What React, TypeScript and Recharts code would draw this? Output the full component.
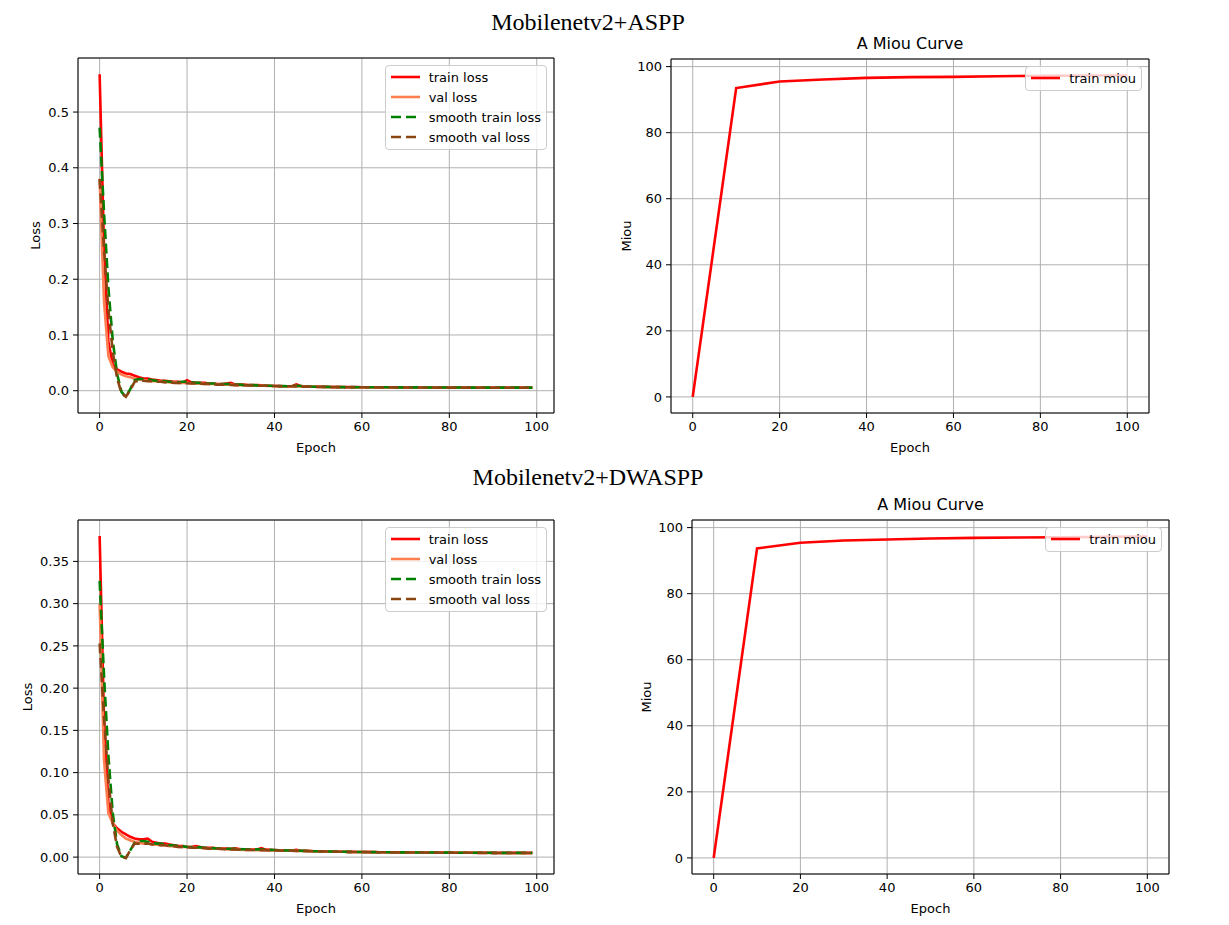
import React from "react";
import { LineChart, Line, XAxis, YAxis, CartesianGrid, Legend } from "recharts";

const FONT = '"DejaVu Sans", Verdana, sans-serif';

const epochTicks = [0, 20, 40, 60, 80, 100];
const miouTicks = [0, 20, 40, 60, 80, 100];
const asppLossTicks = [0, 0.1, 0.2, 0.3, 0.4, 0.5];
const dwasppLossTicks = [0, 0.05, 0.1, 0.15, 0.2, 0.25, 0.3, 0.35];

// Mobilenetv2+ASPP, one value per epoch (0..99)
const asppTrainLoss = [
  0.568, 0.26, 0.088, 0.048, 0.038, 0.034, 0.031, 0.03, 0.027, 0.024,
  0.022, 0.022, 0.02, 0.019, 0.018, 0.018, 0.017, 0.016, 0.016, 0.015,
  0.019, 0.015, 0.014, 0.014, 0.014, 0.013, 0.013, 0.012, 0.012, 0.013,
  0.014, 0.011, 0.011, 0.011, 0.01, 0.01, 0.01, 0.0095, 0.009, 0.009,
  0.0085, 0.0085, 0.008, 0.008, 0.008, 0.0115, 0.0085, 0.008, 0.0075, 0.0072,
  0.007, 0.007, 0.0068, 0.0067, 0.0066, 0.0066, 0.0065, 0.0065, 0.0064, 0.0064,
  0.0063, 0.0063, 0.0063, 0.0062, 0.0062, 0.0062, 0.0061, 0.0061, 0.0061, 0.006,
  0.006, 0.006, 0.006, 0.0059, 0.0059, 0.0059, 0.0059, 0.0058, 0.0058, 0.0058,
  0.0058, 0.0058, 0.0057, 0.0057, 0.0057, 0.0057, 0.0057, 0.0056, 0.0056, 0.0056,
  0.0056, 0.0056, 0.0056, 0.0055, 0.0055, 0.0055, 0.0055, 0.0055, 0.0055, 0.0055,
];
const asppValLoss = [
  0.38, 0.16, 0.062, 0.042, 0.034, 0.029, 0.026, 0.024, 0.022, 0.02,
  0.019, 0.018, 0.017, 0.017, 0.016, 0.016, 0.015, 0.015, 0.014, 0.014,
  0.014, 0.013, 0.013, 0.013, 0.012, 0.012, 0.012, 0.011, 0.011, 0.011,
  0.011, 0.01, 0.01, 0.01, 0.0095, 0.0095, 0.009, 0.009, 0.009, 0.0085,
  0.0085, 0.008, 0.008, 0.008, 0.008, 0.0085, 0.0078, 0.0075, 0.0072, 0.007,
  0.0069, 0.0068, 0.0066, 0.0065, 0.0064, 0.0064, 0.0063, 0.0063, 0.0062, 0.0062,
  0.0061, 0.0061, 0.0061, 0.006, 0.006, 0.006, 0.0059, 0.0059, 0.0059, 0.0058,
  0.0058, 0.0058, 0.0058, 0.0057, 0.0057, 0.0057, 0.0057, 0.0056, 0.0056, 0.0056,
  0.0056, 0.0056, 0.0055, 0.0055, 0.0055, 0.0055, 0.0055, 0.0054, 0.0054, 0.0054,
  0.0054, 0.0054, 0.0054, 0.0053, 0.0053, 0.0053, 0.0053, 0.0053, 0.0053, 0.0053,
];
const asppSmoothTrain = [
  0.472, 0.32, 0.185, 0.09, 0.03, -0.002, -0.011, 0.003, 0.019, 0.021,
  0.021, 0.02, 0.019, 0.018, 0.018, 0.017, 0.016, 0.016, 0.015, 0.016,
  0.016, 0.015, 0.014, 0.014, 0.013, 0.013, 0.013, 0.012, 0.012, 0.012,
  0.012, 0.011, 0.011, 0.01, 0.01, 0.01, 0.0095, 0.009, 0.009, 0.0088,
  0.0085, 0.0083, 0.0082, 0.008, 0.0085, 0.009, 0.0085, 0.008, 0.0075, 0.0072,
  0.007, 0.0069, 0.0068, 0.0067, 0.0066, 0.0065, 0.0065, 0.0064, 0.0064, 0.0063,
  0.0063, 0.0062, 0.0062, 0.0062, 0.0061, 0.0061, 0.0061, 0.006, 0.006, 0.006,
  0.006, 0.0059, 0.0059, 0.0059, 0.0059, 0.0058, 0.0058, 0.0058, 0.0058, 0.0057,
  0.0057, 0.0057, 0.0057, 0.0057, 0.0056, 0.0056, 0.0056, 0.0056, 0.0056, 0.0056,
  0.0055, 0.0055, 0.0055, 0.0055, 0.0055, 0.0055, 0.0055, 0.0055, 0.0055, 0.0055,
];
const asppSmoothVal = [
  0.38, 0.255, 0.145, 0.07, 0.022, -0.004, -0.011, 0.001, 0.016, 0.018,
  0.018, 0.017, 0.017, 0.016, 0.016, 0.015, 0.015, 0.014, 0.014, 0.014,
  0.0135, 0.013, 0.013, 0.0125, 0.012, 0.012, 0.0115, 0.011, 0.011, 0.011,
  0.0105, 0.01, 0.01, 0.0098, 0.0095, 0.0093, 0.009, 0.009, 0.0088, 0.0086,
  0.0084, 0.0082, 0.008, 0.008, 0.0079, 0.0078, 0.0076, 0.0074, 0.0072, 0.007,
  0.0069, 0.0068, 0.0066, 0.0065, 0.0064, 0.0064, 0.0063, 0.0063, 0.0062, 0.0062,
  0.0061, 0.0061, 0.0061, 0.006, 0.006, 0.006, 0.0059, 0.0059, 0.0059, 0.0058,
  0.0058, 0.0058, 0.0058, 0.0057, 0.0057, 0.0057, 0.0057, 0.0056, 0.0056, 0.0056,
  0.0056, 0.0056, 0.0055, 0.0055, 0.0055, 0.0055, 0.0055, 0.0054, 0.0054, 0.0054,
  0.0054, 0.0054, 0.0054, 0.0053, 0.0053, 0.0053, 0.0053, 0.0053, 0.0053, 0.0053,
];

// Mobilenetv2+DWASPP
const dwasppTrainLoss = [
  0.38, 0.165, 0.065, 0.04, 0.034, 0.03, 0.027, 0.024, 0.022, 0.021,
  0.021, 0.022, 0.018, 0.017, 0.016, 0.016, 0.015, 0.014, 0.013, 0.013,
  0.012, 0.012, 0.013, 0.012, 0.011, 0.011, 0.011, 0.01, 0.01, 0.01,
  0.0098, 0.0105, 0.0095, 0.0093, 0.009, 0.009, 0.009, 0.0105, 0.0088, 0.0086,
  0.0084, 0.0082, 0.008, 0.0079, 0.0078, 0.0085, 0.0076, 0.0074, 0.0072, 0.007,
  0.0069, 0.0068, 0.0067, 0.0066, 0.0065, 0.0064, 0.0063, 0.0062, 0.0062, 0.0061,
  0.006, 0.006, 0.0059, 0.0059, 0.0058, 0.0058, 0.0057, 0.0057, 0.0056, 0.0056,
  0.0056, 0.0055, 0.0055, 0.0055, 0.0054, 0.0054, 0.0054, 0.0053, 0.0053, 0.0053,
  0.0053, 0.0052, 0.0052, 0.0052, 0.0052, 0.0051, 0.0051, 0.0051, 0.0051, 0.0051,
  0.005, 0.005, 0.005, 0.005, 0.005, 0.005, 0.005, 0.005, 0.005, 0.005,
];
const dwasppValLoss = [
  0.3, 0.115, 0.052, 0.04, 0.031, 0.026, 0.022, 0.02, 0.018, 0.017,
  0.016, 0.016, 0.015, 0.015, 0.014, 0.014, 0.013, 0.013, 0.012, 0.012,
  0.012, 0.011, 0.011, 0.011, 0.0105, 0.01, 0.01, 0.0098, 0.0095, 0.0093,
  0.009, 0.009, 0.0088, 0.0086, 0.0085, 0.0084, 0.0083, 0.0082, 0.0081, 0.008,
  0.0079, 0.0078, 0.0077, 0.0076, 0.0075, 0.0074, 0.0073, 0.0072, 0.0071, 0.007,
  0.0069, 0.0068, 0.0067, 0.0066, 0.0065, 0.0064, 0.0063, 0.0062, 0.0061, 0.0061,
  0.006, 0.0059, 0.0059, 0.0058, 0.0058, 0.0057, 0.0057, 0.0056, 0.0056, 0.0055,
  0.0055, 0.0055, 0.0054, 0.0054, 0.0054, 0.0053, 0.0053, 0.0053, 0.0052, 0.0052,
  0.0052, 0.0052, 0.0051, 0.0051, 0.0051, 0.0051, 0.005, 0.005, 0.005, 0.005,
  0.005, 0.0049, 0.0049, 0.0049, 0.0049, 0.0049, 0.0049, 0.0049, 0.0049, 0.0049,
];
const dwasppSmoothTrain = [
  0.327, 0.215, 0.12, 0.052, 0.015, 0.001, -0.001, 0.008, 0.017, 0.019,
  0.019, 0.018, 0.017, 0.016, 0.016, 0.015, 0.014, 0.014, 0.013, 0.013,
  0.012, 0.012, 0.012, 0.0115, 0.011, 0.011, 0.0105, 0.01, 0.01, 0.0098,
  0.0097, 0.0097, 0.0095, 0.0093, 0.0091, 0.009, 0.0092, 0.009, 0.0088, 0.0086,
  0.0084, 0.0082, 0.008, 0.0079, 0.0079, 0.0078, 0.0076, 0.0074, 0.0072, 0.007,
  0.0069, 0.0068, 0.0067, 0.0066, 0.0065, 0.0064, 0.0063, 0.0062, 0.0062, 0.0061,
  0.006, 0.006, 0.0059, 0.0059, 0.0058, 0.0058, 0.0057, 0.0057, 0.0056, 0.0056,
  0.0056, 0.0055, 0.0055, 0.0055, 0.0054, 0.0054, 0.0054, 0.0053, 0.0053, 0.0053,
  0.0053, 0.0052, 0.0052, 0.0052, 0.0052, 0.0051, 0.0051, 0.0051, 0.0051, 0.0051,
  0.005, 0.005, 0.005, 0.005, 0.005, 0.005, 0.005, 0.005, 0.005, 0.005,
];
const dwasppSmoothVal = [
  0.253, 0.165, 0.092, 0.04, 0.012, 0.0, -0.001, 0.008, 0.016, 0.016,
  0.016, 0.016, 0.015, 0.015, 0.014, 0.014, 0.013, 0.013, 0.012, 0.012,
  0.012, 0.011, 0.011, 0.011, 0.0105, 0.01, 0.01, 0.0098, 0.0095, 0.0093,
  0.009, 0.009, 0.0088, 0.0086, 0.0085, 0.0084, 0.0083, 0.0082, 0.0081, 0.008,
  0.0079, 0.0078, 0.0077, 0.0076, 0.0075, 0.0074, 0.0073, 0.0072, 0.0071, 0.007,
  0.0069, 0.0068, 0.0067, 0.0066, 0.0065, 0.0064, 0.0063, 0.0062, 0.0061, 0.0061,
  0.006, 0.0059, 0.0059, 0.0058, 0.0058, 0.0057, 0.0057, 0.0056, 0.0056, 0.0055,
  0.0055, 0.0055, 0.0054, 0.0054, 0.0054, 0.0053, 0.0053, 0.0053, 0.0052, 0.0052,
  0.0052, 0.0052, 0.0051, 0.0051, 0.0051, 0.0051, 0.005, 0.005, 0.005, 0.005,
  0.005, 0.0049, 0.0049, 0.0049, 0.0049, 0.0049, 0.0049, 0.0049, 0.0049, 0.0049,
];

const miouEpochs = [0, 10, 20, 30, 40, 50, 60, 70, 80, 90, 100];
const asppMiou = [0, 93.5, 95.5, 96.1, 96.6, 96.8, 96.9, 97.1, 97.2, 97.3, 97.3];
const dwasppMiou = [0, 93.7, 95.4, 96.1, 96.4, 96.7, 96.9, 97.0, 97.1, 97.2, 97.3];

type Series = { key: string; name: string; color: string; dash?: string };

const lossSeries: Series[] = [
  { key: "train", name: "train loss", color: "#ff0000" },
  { key: "val", name: "val loss", color: "#ff7f50" },
  { key: "smoothTrain", name: "smooth train loss", color: "#008000", dash: "10 4.5" },
  { key: "smoothVal", name: "smooth val loss", color: "#8b4513", dash: "10 4.5" },
];
const miouSeries: Series[] = [{ key: "miou", name: "train miou", color: "#ff0000" }];

const lossRows = (train: number[], val: number[], st: number[], sv: number[]) =>
  train.map((v, i) => ({ epoch: i, train: v, val: val[i], smoothTrain: st[i], smoothVal: sv[i] }));
const miouRows = (vals: number[]) => miouEpochs.map((e, i) => ({ epoch: e, miou: vals[i] }));

function LegendBox({ series }: { series: Series[] }) {
  return (
    <div
      style={{
        background: "rgba(255,255,255,0.8)",
        border: "1px solid #cccccc",
        borderRadius: 4,
        padding: "1px 5px 2px 5px",
        fontFamily: FONT,
        fontSize: 13,
        color: "#000",
      }}
    >
      {series.map((s) => (
        <div key={s.key} style={{ display: "flex", alignItems: "center", height: 20, whiteSpace: "nowrap" }}>
          <svg width={29} height={10} style={{ marginRight: 9 }}>
            <line x1={0} y1={5} x2={29} y2={5} stroke={s.color} strokeWidth={2.6} strokeDasharray={s.dash ? "10 5" : undefined} />
          </svg>
          <span>{s.name}</span>
        </div>
      ))}
    </div>
  );
}

interface PanelProps {
  x: number;
  y: number;
  w: number;
  h: number;
  yw: number;
  yLabel: string;
  yLabelOffset: number;
  title?: string;
  data: any[];
  series: Series[];
  xDomain: [number, number];
  yDomain: [number, number];
  yTicks: number[];
  yFormat: (v: number) => string;
}

function Panel({ x, y, w, h, yw, yLabel, yLabelOffset, title, data, series, xDomain, yDomain, yTicks, yFormat }: PanelProps) {
  const TH = title ? 30 : 6;
  const XH = 50;
  const MR = 6;
  const tickStyle = { fill: "#000", fontSize: 13, fontFamily: FONT };
  return (
    <div style={{ position: "absolute", left: x - yw, top: y - TH }}>
      <LineChart width={yw + w + MR} height={TH + h + XH} data={data} margin={{ top: 0, right: 0, bottom: 0, left: 0 }}>
        <CartesianGrid stroke="#b0b0b0" strokeWidth={1} />
        <XAxis
          dataKey="epoch"
          type="number"
          domain={xDomain}
          ticks={epochTicks}
          allowDataOverflow
          height={XH}
          tickSize={5}
          tickMargin={4}
          tick={tickStyle}
          tickLine={{ stroke: "#000" }}
          axisLine={{ stroke: "#000" }}
          label={{ value: "Epoch", position: "insideBottom", offset: 11, fill: "#000", fontSize: 13, fontFamily: FONT }}
        />
        <XAxis
          xAxisId="top"
          orientation="top"
          dataKey="epoch"
          type="number"
          domain={xDomain}
          allowDataOverflow
          height={TH}
          tick={false}
          tickLine={false}
          axisLine={{ stroke: "#000" }}
          label={title ? { value: title, position: "insideTop", offset: 9, fill: "#000", fontSize: 16, fontFamily: FONT } : undefined}
        />
        <YAxis
          type="number"
          domain={yDomain}
          ticks={yTicks}
          allowDataOverflow
          width={yw}
          tickSize={5}
          tickMargin={4}
          tick={tickStyle}
          tickFormatter={yFormat}
          tickLine={{ stroke: "#000" }}
          axisLine={{ stroke: "#000" }}
          label={{
            value: yLabel,
            angle: -90,
            position: "insideLeft",
            offset: yLabelOffset,
            fill: "#000",
            fontSize: 13,
            fontFamily: FONT,
            style: { textAnchor: "middle" },
          }}
        />
        <YAxis yAxisId="right" orientation="right" type="number" domain={yDomain} allowDataOverflow width={MR} tick={false} tickLine={false} axisLine={{ stroke: "#000" }} />
        {series.map((s) => (
          <Line
            key={s.key}
            type="linear"
            dataKey={s.key}
            name={s.name}
            stroke={s.color}
            strokeWidth={2.6}
            strokeDasharray={s.dash}
            dot={false}
            activeDot={false}
            isAnimationActive={false}
          />
        ))}
        <Legend
          layout="horizontal"
          align="center"
          verticalAlign="middle"
          wrapperStyle={{ top: TH + 7, right: MR + 7, left: "auto", width: "auto" }}
          content={() => <LegendBox series={series} />}
        />
      </LineChart>
    </div>
  );
}

const supTitle: React.CSSProperties = {
  position: "absolute",
  left: 0,
  width: 1176,
  textAlign: "center",
  fontFamily: '"Liberation Serif", "Times New Roman", serif',
  fontSize: 24,
  lineHeight: "28px",
  color: "#000",
};

export default function App() {
  const lossX: [number, number] = [-4.95, 103.95];
  const miouX: [number, number] = [-5, 105];
  return (
    <div style={{ position: "absolute", left: 0, top: 0, width: 1229, height: 925, background: "#fff", overflow: "hidden" }}>
      <div style={{ ...supTitle, top: 8 }}>Mobilenetv2+ASPP</div>
      <div style={{ ...supTitle, top: 463 }}>Mobilenetv2+DWASPP</div>

      <Panel
        x={78} y={58} w={476} h={355} yw={78}
        yLabel="Loss" yLabelOffset={35}
        data={lossRows(asppTrainLoss, asppValLoss, asppSmoothTrain, asppSmoothVal)}
        series={lossSeries}
        xDomain={lossX} yDomain={[-0.04, 0.597]} yTicks={asppLossTicks}
        yFormat={(v) => v.toFixed(1)}
      />
      <Panel
        x={671} y={59} w={478} h={354} yw={60}
        yLabel="Miou" yLabelOffset={15} title="A Miou Curve"
        data={miouRows(asppMiou)}
        series={miouSeries}
        xDomain={miouX} yDomain={[-4.87, 102.3]} yTicks={miouTicks}
        yFormat={(v) => String(v)}
      />
      <Panel
        x={78} y={520} w={476} h={354} yw={78}
        yLabel="Loss" yLabelOffset={27}
        data={lossRows(dwasppTrainLoss, dwasppValLoss, dwasppSmoothTrain, dwasppSmoothVal)}
        series={lossSeries}
        xDomain={lossX} yDomain={[-0.02, 0.399]} yTicks={dwasppLossTicks}
        yFormat={(v) => v.toFixed(2)}
      />
      <Panel
        x={692} y={520} w={477} h={354} yw={60}
        yLabel="Miou" yLabelOffset={14} title="A Miou Curve"
        data={miouRows(dwasppMiou)}
        series={miouSeries}
        xDomain={miouX} yDomain={[-4.87, 102.3]} yTicks={miouTicks}
        yFormat={(v) => String(v)}
      />
    </div>
  );
}
